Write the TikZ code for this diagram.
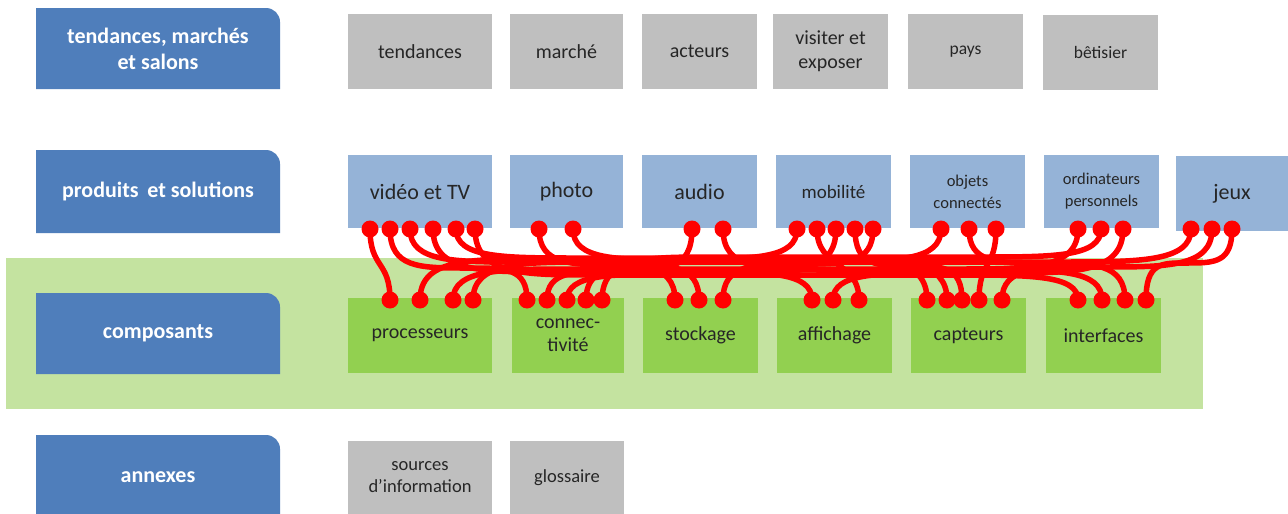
\documentclass[tikz,border=0pt]{standalone}
\usepackage{fontspec}
\setmainfont{Carlito}
\usetikzlibrary{calc}
\definecolor{darkblue}{HTML}{4F7EBB}
\definecolor{lightblue}{HTML}{95B3D7}
\definecolor{boxgray}{HTML}{BFBFBF}
\definecolor{boxgreen}{HTML}{92D050}
\definecolor{bandgreen}{HTML}{C4E3A0}
\definecolor{wirered}{HTML}{FF0000}
\definecolor{txt}{HTML}{262626}
\tikzset{
  lefttxt/.style={text=white, font=\fontsize{22}{26}\selectfont\bfseries, align=center},
  anybox/.style={rectangle, inner sep=0pt, outer sep=0pt, align=center, text=txt},
  gbox/.style={anybox, fill=boxgray},
  pbox/.style={anybox, fill=lightblue},
  cbox/.style={anybox, fill=boxgreen},
  wire/.style={draw=wirered, line width=5.5pt, line cap=round},
}
% box from x0,x1,y0,y1 (pixel coords, y downward)
\newcommand\bx[7]{%
  \pgfmathsetmacro\bw{#4-#3}\pgfmathsetmacro\bh{#6-#5}%
  \node[#1, minimum width=\bw pt, minimum height=\bh pt] (#2) at ({(#3+#4)/2},{-(#5+#6)/2}) {#7};}
% left blue tab with rounded top-right corner
\newcommand\lefttab[2]{%
  \fill[darkblue] (36,-#2) -- (36,-#1) -- (266,-#1) arc[start angle=90,end angle=0,radius=14] -- (280,-#2) -- cycle;}
% wire: top, bottom, bundle y, signed top radius, signed bottom radius
\newcommand\wire[5]{%
  \draw[wire] let \p1=(#1), \p2=(#2) in
    (\p1) .. controls (\x1,-#3) and ({\x1+0.4*(#4)},-#3) .. ({\x1+(#4)},-#3)
    -- ({\x2-(#5)},-#3) .. controls ({\x2-0.4*(#5)},-#3) and (\x2,-#3) .. (\p2);}
\newcommand\swire[2]{\draw[wire] (#1) .. controls +(0,-40) and +(0,40) .. (#2);}
\begin{document}
\begin{tikzpicture}[x=1pt,y=1pt]
\useasboundingbox (0,0) rectangle (1288,-514);
\fill[white] (0,0) rectangle (1288,-514);
% green band
\fill[bandgreen] (6,-258) rectangle (1203,-409);
% left tabs
\lefttab{8}{89}
\lefttab{150}{233}
\lefttab{293}{374}
\lefttab{435}{514}
\node[lefttxt] (L1) at (158,-48.5) {tendances, marchés\\et salons};
\node[lefttxt] (L2) at (158,-191.5) {produits\, et solutions};
\node[lefttxt] (L3) at (158,-333.5) {composants};
\node[lefttxt] (L4) at (158,-477) {annexes};
% row 1
\bx{gbox,font=\fontsize{20}{24}\selectfont}{tend}{348}{492}{14}{89}{tendances}
\bx{gbox,font=\fontsize{20}{24}\selectfont}{marc}{510}{623}{14}{89}{marché}
\bx{gbox,font=\fontsize{20}{24}\selectfont}{acte}{642}{757}{14}{89}{acteurs}
\bx{gbox,font=\fontsize{20}{24}\selectfont}{visi}{773}{888}{14}{89}{visiter et\\exposer}
\bx{gbox,font=\fontsize{17.5}{21}\selectfont}{pays}{908}{1023}{14}{89}{pays}
\bx{gbox,font=\fontsize{17.5}{21}\selectfont}{beti}{1043}{1158}{15}{90}{bêtisier}
% row 2
\bx{pbox,font=\fontsize{22}{26}\selectfont}{vide}{348}{492}{155}{228}{vidéo et TV}
\bx{pbox,font=\fontsize{22}{26}\selectfont}{phot}{510}{623}{155}{228}{photo}
\bx{pbox,font=\fontsize{22}{26}\selectfont}{audi}{642}{757}{155}{228}{audio}
\bx{pbox,font=\fontsize{19}{23}\selectfont}{mobi}{776}{891}{155}{228}{mobilité}
\bx{pbox,font=\fontsize{16.5}{22}\selectfont}{obje}{910}{1025}{155}{228}{objets\\connectés}
\bx{pbox,font=\fontsize{16.5}{22}\selectfont}{ordi}{1044}{1159}{155}{228}{ordinateurs\\personnels}
\bx{pbox,font=\fontsize{22}{26}\selectfont}{jeux}{1176}{1288}{156}{231}{jeux}
% row 3
\bx{cbox,font=\fontsize{20}{24}\selectfont}{proc}{348}{492}{298}{373}{processeurs}
\bx{cbox,font=\fontsize{20}{23}\selectfont}{conn}{512}{624}{298}{373}{connec-\\tivité}
\bx{cbox,font=\fontsize{20}{24}\selectfont}{stoc}{643}{758}{298}{373}{stockage}
\bx{cbox,font=\fontsize{20}{24}\selectfont}{affi}{777}{892}{298}{373}{affichage}
\bx{cbox,font=\fontsize{20}{24}\selectfont}{capt}{911}{1026}{298}{373}{capteurs}
\bx{cbox,font=\fontsize{20}{24}\selectfont}{inte}{1046}{1161}{298}{373}{interfaces}
% row 4
\bx{gbox,font=\fontsize{18.5}{22}\selectfont}{sour}{348}{492}{441}{514}{sources\\d’information}
\bx{gbox,font=\fontsize{18.5}{22}\selectfont}{glos}{510}{624}{441}{514}{glossaire}
% top dots
\foreach \n/\x in {V1/370,V2/390,V3/410,V4/433,V5/456,V6/475,P1/539,P2/573,A1/692,A2/723,
  M1/797,M2/817,M3/836,M4/855,M5/873,O1/941,O2/969,O3/996,R1/1078,R2/1101,R3/1123,
  J1/1191,J2/1212,J3/1232}
  \coordinate (\n) at (\x,-229);
% bottom dots
\foreach \n/\x in {p1/390,p2/420,p3/453,p4/473,c1/527,c2/547,c3/567,c4/586,c5/602,
  s1/675,s2/699,s3/723,a1/812,a2/833,a3/859,k1/927,k2/947,k3/962,k4/979,k5/1002,
  i1/1078,i2/1102,i3/1125,i4/1146}
  \coordinate (\n) at (\x,-300);
% wires going right
\wire{V2}{c1}{268}{75}{55}
\wire{V3}{s1}{262}{110}{100}
\wire{V4}{a1}{272}{120}{110}
\wire{V5}{k1}{258}{120}{110}
\wire{V6}{i1}{275}{120}{120}
\wire{P1}{s2}{265}{80}{70}
\wire{P2}{k2}{260}{110}{110}
\wire{A2}{i2}{270}{100}{110}
\wire{M4}{k3}{266}{55}{50}
\wire{O2}{i3}{263}{70}{80}
% wires going left
\wire{A1}{c2}{271}{-70}{-70}
\wire{M1}{p2}{259}{-110}{-120}
\wire{M3}{c3}{274}{-110}{-110}
\wire{M5}{s3}{264}{-70}{-75}
\wire{O1}{c4}{261}{-110}{-110}
\wire{R1}{p3}{269}{-120}{-120}
\wire{R2}{c5}{257}{-120}{-110}
\wire{R3}{a2}{273}{-120}{-110}
\wire{J1}{p4}{262}{-130}{-120}
\wire{J2}{k5}{267}{-110}{-90}
\wire{J3}{i4}{263}{-45}{-38}
% near-vertical wires
\swire{V1}{p1}
\swire{M2}{a3}
\swire{O3}{k4}
% dots
\foreach \n in {V1,V2,V3,V4,V5,V6,P1,P2,A1,A2,M1,M2,M3,M4,M5,O1,O2,O3,R1,R2,R3,J1,J2,J3,
  p1,p2,p3,p4,c1,c2,c3,c4,c5,s1,s2,s3,a1,a2,a3,k1,k2,k3,k4,k5,i1,i2,i3,i4}
  \fill[wirered] (\n) circle (8.5pt);
\end{tikzpicture}
\end{document}
